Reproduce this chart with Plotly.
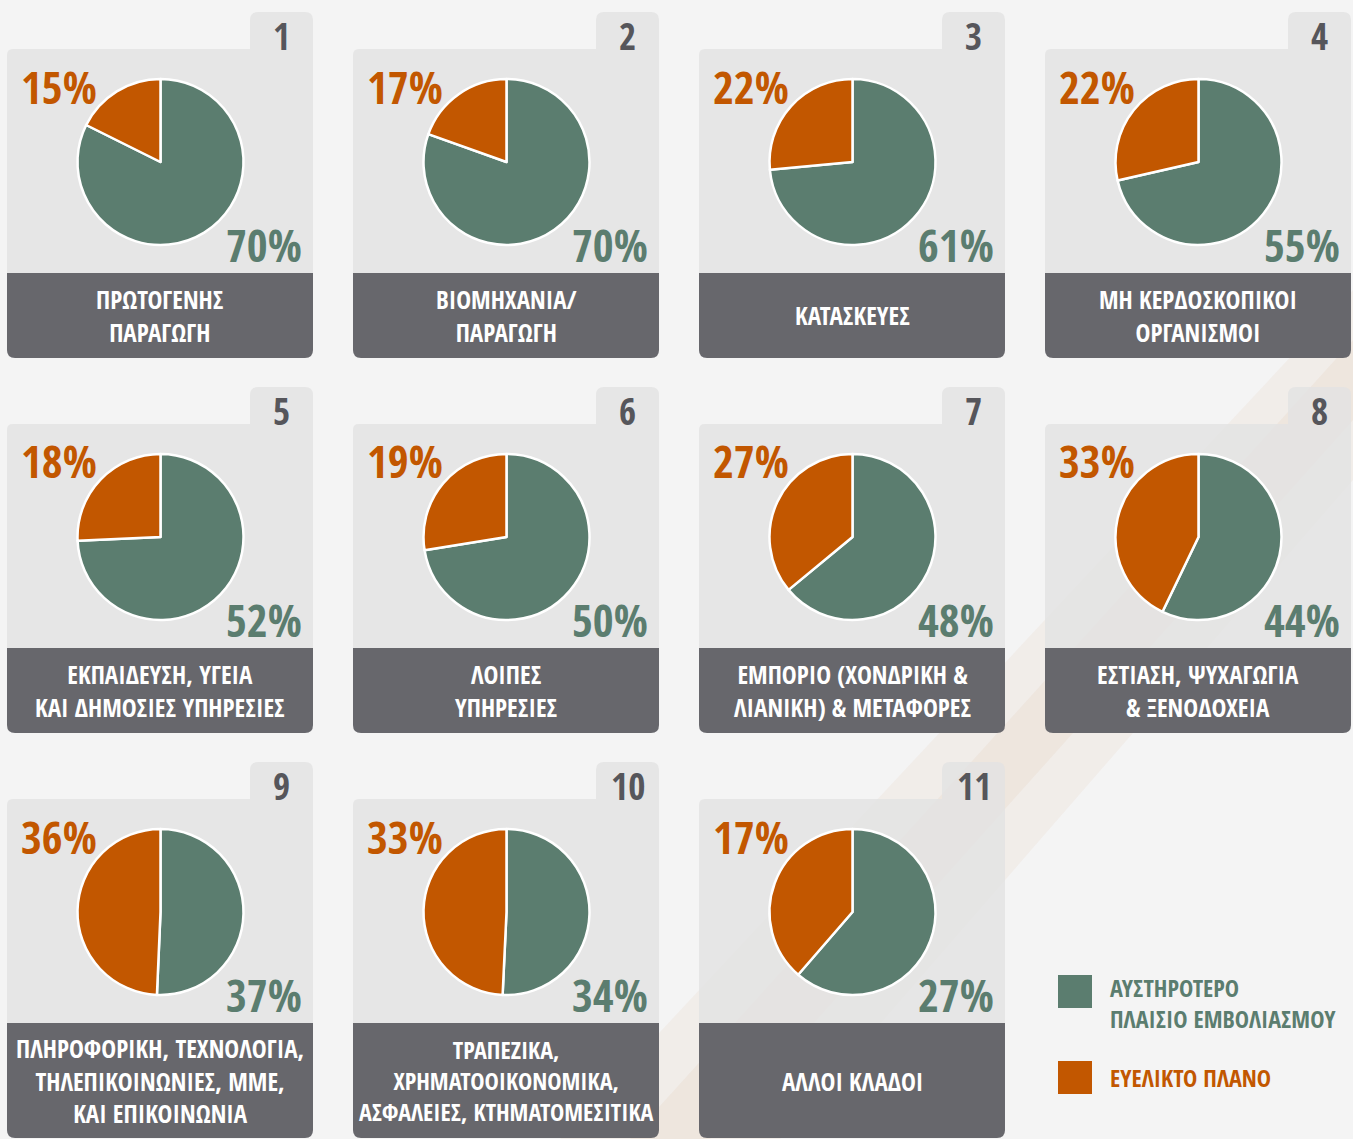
import plotly.graph_objects as go

W, H = 1353, 1139

categories = [
    "ΠΡΩΤΟΓΕΝΗΣ<br>ΠΑΡΑΓΩΓΗ",
    "ΒΙΟΜΗΧΑΝΙΑ/<br>ΠΑΡΑΓΩΓΗ",
    "ΚΑΤΑΣΚΕΥΕΣ",
    "ΜΗ ΚΕΡΔΟΣΚΟΠΙΚΟΙ<br>ΟΡΓΑΝΙΣΜΟΙ",
    "ΕΚΠΑΙΔΕΥΣΗ, ΥΓΕΙΑ<br>ΚΑΙ ΔΗΜΟΣΙΕΣ ΥΠΗΡΕΣΙΕΣ",
    "ΛΟΙΠΕΣ<br>ΥΠΗΡΕΣΙΕΣ",
    "ΕΜΠΟΡΙΟ (ΧΟΝΔΡΙΚΗ &<br>ΛΙΑΝΙΚΗ) & ΜΕΤΑΦΟΡΕΣ",
    "ΕΣΤΙΑΣΗ, ΨΥΧΑΓΩΓΙΑ<br>& ΞΕΝΟΔΟΧΕΙΑ",
    "ΠΛΗΡΟΦΟΡΙΚΗ, ΤΕΧΝΟΛΟΓΙΑ,<br>ΤΗΛΕΠΙΚΟΙΝΩΝΙΕΣ, ΜΜΕ,<br>ΚΑΙ ΕΠΙΚΟΙΝΩΝΙΑ",
    "ΤΡΑΠΕΖΙΚΑ,<br>ΧΡΗΜΑΤΟΟΙΚΟΝΟΜΙΚΑ,<br>ΑΣΦΑΛΕΙΕΣ, ΚΤΗΜΑΤΟΜΕΣΙΤΙΚΑ",
    "ΑΛΛΟΙ ΚΛΑΔΟΙ",
]
panel_numbers = ["1", "2", "3", "4", "5", "6", "7", "8", "9", "10", "11"]
strict_values = [70, 70, 61, 55, 52, 50, 48, 44, 37, 34, 27]
flexible_values = [15, 17, 22, 22, 18, 19, 27, 33, 36, 33, 17]
series_names = ["ΑΥΣΤΗΡΟΤΕΡΟ<br>ΠΛΑΙΣΙΟ ΕΜΒΟΛΙΑΣΜΟΥ", "ΕΥΕΛΙΚΤΟ ΠΛΑΝΟ"]

GREEN = "#5b7d6f"
ORANGE = "#c25700"
PANEL = "rgba(226,226,226,0.8)"
BAR = "#67676c"
NUMC = "#56565b"
FONT = "Open Sans Condensed, Roboto Condensed, DejaVu Sans Condensed, sans-serif"

col_x = [7, 353, 699, 1045]
panel_w = 306
tab_top = [12, 387, 762]
bar_bottom = [358, 733, 1138]


def px(x):
    return x / W


def py(y):
    return 1 - y / H


def rrect(x0, y0, x1, y1, r, tl=True, tr=True, br=True, bl=True):
    def P(x, y):
        return f"{px(x):.5f},{py(y):.5f}"
    s = f"M {P(x0 + (r if tl else 0), y0)} "
    s += f"L {P(x1 - (r if tr else 0), y0)} "
    if tr:
        s += f"Q {P(x1, y0)} {P(x1, y0 + r)} "
    s += f"L {P(x1, y1 - (r if br else 0))} "
    if br:
        s += f"Q {P(x1, y1)} {P(x1 - r, y1)} "
    s += f"L {P(x0 + (r if bl else 0), y1)} "
    if bl:
        s += f"Q {P(x0, y1)} {P(x0, y1 - r)} "
    s += f"L {P(x0, y0 + (r if tl else 0))} "
    if tl:
        s += f"Q {P(x0, y0)} {P(x0 + r, y0)} "
    s += "Z"
    return s


fig = go.Figure()
shapes = []
annotations = []

# faint orange diagonal glow in the background
glow = [
    (0.045, [(560, 1139), (780, 1139), (1353, 480), (1353, 290)]),
    (0.045, [(630, 1139), (710, 1139), (1353, 420), (1353, 340)]),
]
for op, pts in glow:
    path = "M " + " L ".join(f"{px(x):.5f},{py(y):.5f}" for x, y in pts) + " Z"
    shapes.append(dict(type="path", path=path, xref="paper", yref="paper",
                       fillcolor=ORANGE, opacity=op, line=dict(width=0), layer="below"))

for i in range(len(categories)):
    row, col = divmod(i, 4)
    x0 = col_x[col]
    x1 = x0 + panel_w
    tt = tab_top[row]
    pt = tt + 37
    bt = pt + 224
    bb = bar_bottom[row]

    # tab
    shapes.append(dict(type="path", path=rrect(x1 - 63, tt, x1, pt, 8, br=False, bl=False),
                       xref="paper", yref="paper", fillcolor=PANEL, line=dict(width=0), layer="below"))
    # panel body
    shapes.append(dict(type="path", path=rrect(x0, pt, x1, bt, 6, tr=False, br=False, bl=False),
                       xref="paper", yref="paper", fillcolor=PANEL, line=dict(width=0), layer="below"))
    # label bar
    shapes.append(dict(type="path", path=rrect(x0, bt, x1, bb, 8, tl=False, tr=False),
                       xref="paper", yref="paper", fillcolor=BAR, line=dict(width=0), layer="below"))

    # pie
    cx, cy, r = x0 + 153.5, pt + 113, 83
    fig.add_trace(go.Pie(
        values=[strict_values[i], flexible_values[i]],
        labels=["ΑΥΣΤΗΡΟΤΕΡΟ ΠΛΑΙΣΙΟ", "ΕΥΕΛΙΚΤΟ ΠΛΑΝΟ"],
        marker=dict(colors=[GREEN, ORANGE], line=dict(color="white", width=2.5)),
        sort=False, direction="clockwise", rotation=0,
        textinfo="none", hoverinfo="label+value", showlegend=False,
        domain=dict(x=[px(cx - r), px(cx + r)], y=[py(cy + r), py(cy - r)]),
    ))

    # percentages
    annotations.append(dict(x=px(x0 + 12), y=py(pt + 37), xref="paper", yref="paper",
                            text=f"{flexible_values[i]}%", showarrow=False,
                            xanchor="left", yanchor="middle",
                            font=dict(family=FONT, size=45, color=ORANGE, weight="bold")))
    annotations.append(dict(x=px(x1 - 9), y=py(pt + 195), xref="paper", yref="paper",
                            text=f"{strict_values[i]}%", showarrow=False,
                            xanchor="right", yanchor="middle",
                            font=dict(family=FONT, size=45, color=GREEN, weight="bold")))
    # number
    annotations.append(dict(x=px(x1 - 31.5), y=py(tt + 23), xref="paper", yref="paper",
                            text=panel_numbers[i], showarrow=False,
                            xanchor="center", yanchor="middle",
                            font=dict(family=FONT, size=37, color=NUMC, weight="bold")))
    # category label
    fsize = 25 if i != 9 else 24
    annotations.append(dict(x=px((x0 + x1) / 2), y=py((bt + bb) / 2), xref="paper", yref="paper",
                            text=categories[i], showarrow=False,
                            xanchor="center", yanchor="middle",
                            font=dict(family=FONT, size=fsize, color="white", weight="bold")))

# legend
leg = [(GREEN, 975, series_names[0], 1003), (ORANGE, 1061, series_names[1], 1077)]
for color, ytop, name, ytext in leg:
    shapes.append(dict(type="rect", xref="paper", yref="paper",
                       x0=px(1058), x1=px(1092), y0=py(ytop + 33), y1=py(ytop),
                       fillcolor=color, line=dict(width=0)))
    annotations.append(dict(x=px(1108), y=py(ytext), xref="paper", yref="paper",
                            text=name, showarrow=False, xanchor="left", yanchor="middle",
                            align="left",
                            font=dict(family=FONT, size=24, color=color, weight="bold")))

fig.update_layout(
    width=W, height=H,
    margin=dict(l=0, r=0, t=0, b=0),
    paper_bgcolor="#f4f4f4",
    plot_bgcolor="#f4f4f4",
    shapes=shapes,
    annotations=annotations,
    showlegend=False,
)

fig.write_html("out.html")
